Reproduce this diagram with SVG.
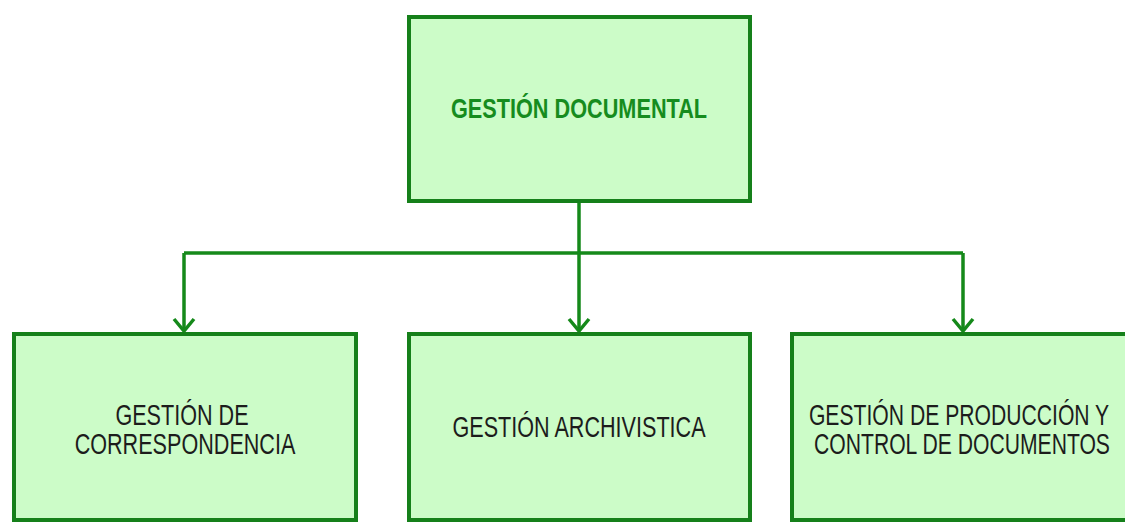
<svg xmlns="http://www.w3.org/2000/svg" width="1125" height="531" viewBox="0 0 1125 531">
  <defs>
    <style>
      .box { fill: #ccfcc8; stroke: #15801a; stroke-width: 4; }
      .link { fill: none; stroke: #15891a; stroke-width: 3.5; }
      .title { font-family: "Liberation Sans", Arial, sans-serif; font-weight: bold; font-size: 28px; fill: #168c1e; text-anchor: middle; }
      .label { font-family: "Liberation Sans", Arial, sans-serif; font-size: 30px; fill: #1c1c1c; text-anchor: middle; }
    </style>
    <!-- open V arrowhead, drawn pointing along +x -->
    <marker id="arrow" viewBox="-15 -12 18 24" refX="0" refY="0" markerWidth="18" markerHeight="24" markerUnits="userSpaceOnUse" orient="auto">
      <path d="M-12 -10 L0 0 L-12 10" fill="none" stroke="#15891a" stroke-width="3.5"/>
    </marker>
  </defs>
  <rect width="1125" height="531" fill="#ffffff"/>

  <g id="connectors">
    <path class="link" d="M579 202 V253"/>
    <path class="link" d="M184 253 H963"/>
    <path class="link" d="M184 253 V331" marker-end="url(#arrow)"/>
    <path class="link" d="M579 253 V331" marker-end="url(#arrow)"/>
    <path class="link" d="M963 253 V331" marker-end="url(#arrow)"/>
  </g>

  <g id="node-gestion-documental">
    <rect class="box" x="409" y="17" width="341" height="184"/>
    <text class="title" transform="translate(579 118) scale(0.775 1)" x="0" y="0">GESTIÓN DOCUMENTAL</text>
  </g>

  <g id="node-correspondencia">
    <rect class="box" x="14" y="334" width="342" height="186"/>
    <text class="label" transform="translate(185 425) scale(0.72 1)">
      <tspan x="0" y="0">GESTIÓN DE</tspan>
      <tspan x="0" y="29">CORRESPONDENCIA</tspan>
    </text>
  </g>

  <g id="node-archivistica">
    <rect class="box" x="409" y="334" width="341" height="186"/>
    <text class="label" transform="translate(579 437) scale(0.72 1)" x="0" y="0">GESTIÓN ARCHIVISTICA</text>
  </g>

  <g id="node-produccion-control">
    <!-- box runs past the right edge of the canvas -->
    <rect class="box" x="792" y="334" width="345" height="186"/>
    <text class="label" transform="translate(962 425) scale(0.705 1)">
      <tspan x="0" y="0">GESTIÓN DE PRODUCCIÓN Y</tspan>
      <tspan x="0" y="29">CONTROL DE DOCUMENTOS</tspan>
    </text>
  </g>
</svg>
